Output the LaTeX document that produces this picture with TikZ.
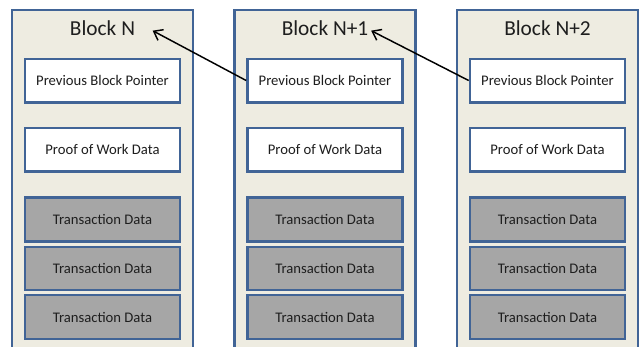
\documentclass[tikz,border=0pt]{standalone}
\usepackage{fontspec}
\setmainfont{Carlito}
\usetikzlibrary{arrows.meta}
\definecolor{bordc}{RGB}{65,100,150}
\definecolor{blockfill}{RGB}{238,236,225}
\definecolor{txfill}{RGB}{166,166,166}
\definecolor{txtc}{RGB}{30,30,30}
\tikzset{
  blockbox/.style={draw=bordc, fill=blockfill, line width=2pt, minimum width=135.75pt, minimum height=262.5pt, inner sep=0pt},
  whitebox/.style={draw=bordc, fill=white, line width=2pt, minimum width=116.25pt, minimum height=32.5pt, inner sep=0pt, text=txtc, font=\fontsize{11}{13}\selectfont},
  txbox/.style={whitebox, fill=txfill, minimum height=33pt},
  titletext/.style={font=\fontsize{16}{19}\selectfont, inner sep=2pt, text=txtc},
  ptr/.style={line width=1.1pt, -{Straight Barb[length=6pt,width=9pt,line width=1.1pt]}}
}
\begin{document}
\begin{tikzpicture}[x=0.75pt, y=-0.75pt]
\useasboundingbox (0,0) rectangle (644,347);
\clip (0,0) rectangle (644,347);
\foreach \i/\dx/\t in {0/0/{Block N}, 1/222.5/{Block N+1}, 2/445/{Block N+2}} {
  \node[blockbox] (b\i) at (102.5+\dx,185) {};
  \node[titletext] (t\i) at (102.5+\dx,28) {\t};
  \node[whitebox] (p\i) at (102.5+\dx,80.5) {Previous Block Pointer};
  \node[whitebox] (w\i) at (102.5+\dx,149.5) {Proof of Work Data};
  \node[txbox] (x\i a) at (102.5+\dx,219.5) {Transaction Data};
  \node[txbox, minimum height=32.25pt] (x\i b) at (102.5+\dx,268.5) {Transaction Data};
  \node[txbox] (x\i c) at (102.5+\dx,317) {Transaction Data};
}
\draw[ptr] (p1.west) -- ([xshift=11pt,yshift=-2pt]t0.east);
\draw[ptr] (p2.west) -- ([xshift=0pt,yshift=-2pt]t1.east);
\end{tikzpicture}
\end{document}
